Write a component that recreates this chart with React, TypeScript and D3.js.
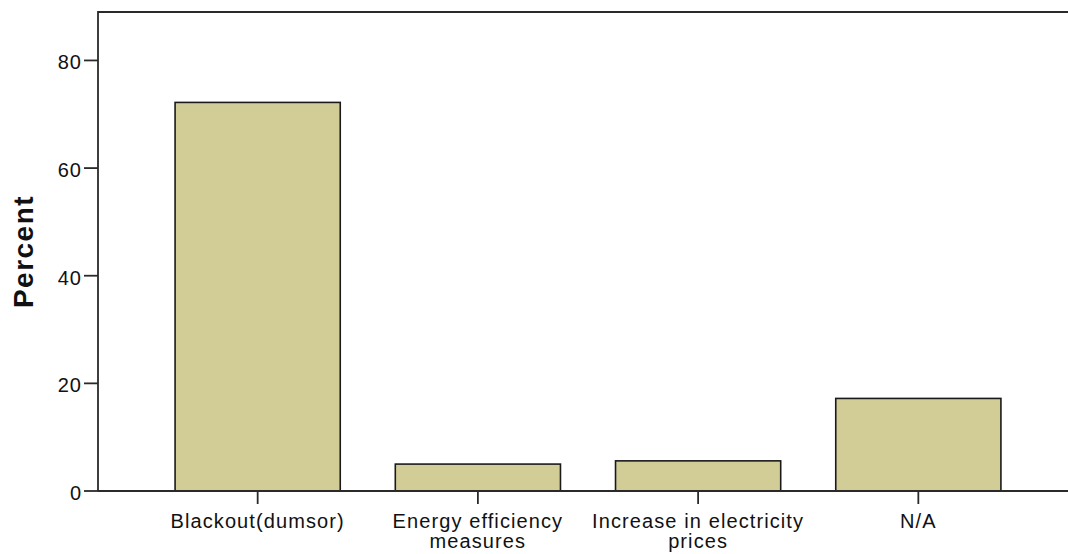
import React, { useRef, useEffect } from 'react';
import * as d3 from 'd3';

const categories = ['Blackout(dumsor)', 'Energy efficiency\nmeasures', 'Increase in electricity\nprices', 'N/A'];
const percents = [72.2, 5.0, 5.6, 17.2];
const yTicks = [0, 20, 40, 60, 80];

const App: React.FC = () => {
  const svgRef = useRef<SVGSVGElement>(null);

  useEffect(() => {
    if (!svgRef.current) return;
    const svg = d3.select(svgRef.current);
    svg.selectAll('*').remove();

    const width = 1068;
    const height = 554;
    const left = 98, top = 12, bottom = 491;
    const font = '"Liberation Sans", Arial, sans-serif';
    const axisColor = '#2a2a2a';

    const x = d3.scaleBand().domain(categories).range([left, 1078]).paddingInner(0.25).paddingOuter(0.35);
    const y = d3.scaleLinear().domain([0, 89]).range([bottom, top]);

    svg.attr('width', width).attr('height', height);

    // Bars
    svg.selectAll('.bar')
      .data(categories)
      .enter().append('rect')
      .attr('class', 'bar')
      .attr('x', (d) => x(d) || 0)
      .attr('width', x.bandwidth())
      .attr('y', (_, i) => y(percents[i]))
      .attr('height', (_, i) => bottom - y(percents[i]))
      .attr('fill', '#d2cd97')
      .attr('stroke', '#1a1a1a')
      .attr('stroke-width', 1.6);

    // Frame: left axis, top line, baseline
    svg.append('path')
      .attr('d', `M${left},${bottom}V${top}H${width}`)
      .attr('fill', 'none').attr('stroke', axisColor).attr('stroke-width', 1.8);
    svg.append('line')
      .attr('x1', left).attr('x2', width).attr('y1', bottom).attr('y2', bottom)
      .attr('stroke', axisColor).attr('stroke-width', 1.8);

    // Y ticks
    const yAxis = svg.append('g');
    yTicks.forEach((t) => {
      yAxis.append('line')
        .attr('x1', left - 14).attr('x2', left).attr('y1', y(t)).attr('y2', y(t))
        .attr('stroke', axisColor).attr('stroke-width', 1.8);
      yAxis.append('text')
        .attr('x', left - 16).attr('y', y(t) + 9)
        .attr('text-anchor', 'end')
        .attr('font-family', font).attr('font-size', '20px')
        .attr('letter-spacing', '1px')
        .attr('fill', '#111')
        .text(t);
    });

    // X ticks + labels
    const xAxis = svg.append('g');
    categories.forEach((c) => {
      const cx = (x(c) || 0) + x.bandwidth() / 2;
      xAxis.append('line')
        .attr('x1', cx).attr('x2', cx).attr('y1', bottom).attr('y2', bottom + 13)
        .attr('stroke', axisColor).attr('stroke-width', 1.8);
      const txt = xAxis.append('text')
        .attr('text-anchor', 'middle')
        .attr('font-family', font).attr('font-size', '20px')
        .attr('letter-spacing', '1.1px')
        .attr('fill', '#111');
      c.split('\n').forEach((line, i) => {
        txt.append('tspan').attr('x', cx).attr('y', 528 + i * 20).text(line);
      });
    });

    // Y axis title
    svg.append('text')
      .attr('transform', `translate(33, ${(top + bottom) / 2}) rotate(-90)`)
      .attr('text-anchor', 'middle')
      .attr('font-family', font).attr('font-size', '28px').attr('font-weight', 'bold')
      .attr('letter-spacing', '1.5px')
      .attr('fill', '#111')
      .text('Percent');
  }, []);

  return (
    <div style={{ position: 'absolute', left: 0, top: 0, width: 1068, height: 554, background: '#fff' }}>
      <svg ref={svgRef} style={{ display: 'block' }} />
    </div>
  );
};

export default App;
